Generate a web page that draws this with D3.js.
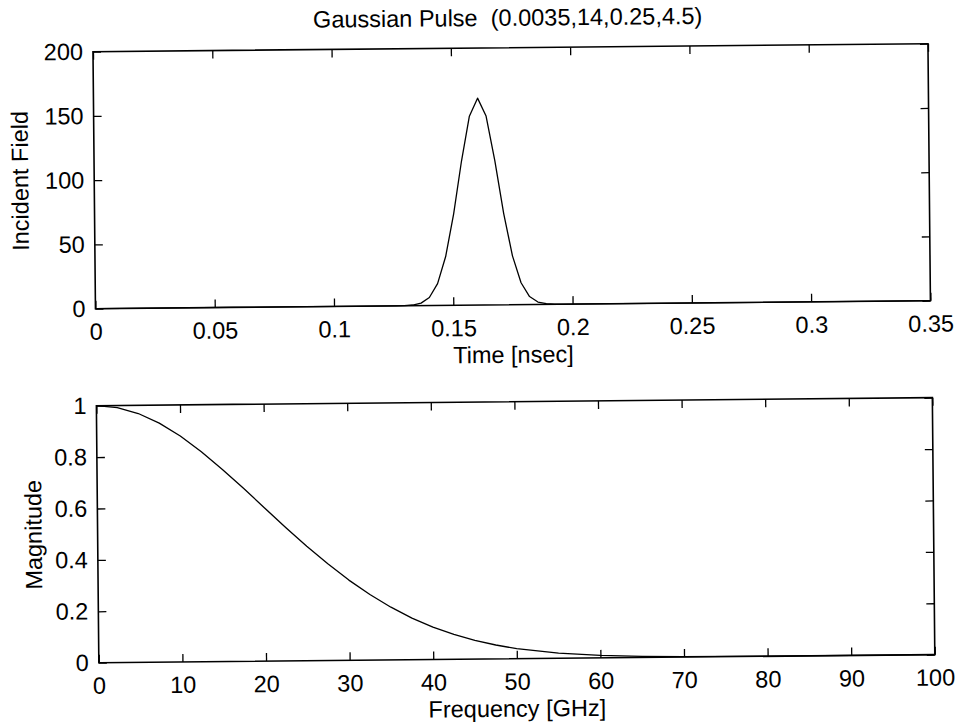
<!DOCTYPE html>
<html><head><meta charset="utf-8">
<script src="https://cdn.jsdelivr.net/npm/d3@7"></script>
<style>
body{margin:0;background:#fff}
svg{display:block;background:#fff}
text{font-family:"Liberation Sans",Arial,Helvetica,sans-serif;font-size:23.5px;fill:#000}
</style>
</head><body>
<svg id="c" width="964" height="728"></svg>
<script>
const titleText = "Gaussian Pulse  (0.0035,14,0.25,4.5)";

// Top panel: incident field vs time
const timeNs = [0, 0.126, 0.1295, 0.133, 0.1365, 0.14, 0.1435, 0.147, 0.1505, 0.154, 0.1575, 0.161,
  0.1645, 0.168, 0.1715, 0.175, 0.1785, 0.182, 0.1855, 0.189, 0.1925, 0.196, 0.35];
const incidentField = [0, 0, 0.1, 0.5, 1.9, 6.2, 17, 38, 71, 112, 147, 161,
  147, 112, 71, 38, 17, 6.2, 1.9, 0.5, 0.1, 0, 0];

// Bottom panel: spectrum magnitude vs frequency
const freqGHz = [0, 2.5, 5, 7.5, 10, 12.5, 15, 17.5, 20, 22.5, 25, 27.5, 30, 32.5, 35, 37.5,
  40, 42.5, 45, 47.5, 50, 55, 60, 65, 70, 80, 90, 100];
const magnitude = [1, 0.992, 0.968, 0.930, 0.879, 0.817, 0.747, 0.673, 0.596, 0.519, 0.445, 0.376,
  0.312, 0.255, 0.205, 0.162, 0.126, 0.097, 0.073, 0.054, 0.039, 0.020, 0.0095, 0.0042, 0.0018,
  0.0003, 0, 0];

const timeTicks = [0, 0.05, 0.1, 0.15, 0.2, 0.25, 0.3, 0.35];
const timeTickLabels = ["0", "0.05", "0.1", "0.15", "0.2", "0.25", "0.3", "0.35"];
const fieldTicks = [0, 50, 100, 150, 200];
const fieldTickLabels = ["0", "50", "100", "150", "200"];
const freqTicks = [0, 10, 20, 30, 40, 50, 60, 70, 80, 90, 100];
const freqTickLabels = ["0", "10", "20", "30", "40", "50", "60", "70", "80", "90", "100"];
const magTicks = [0, 0.2, 0.4, 0.6, 0.8, 1];
const magTickLabels = ["0", "0.2", "0.4", "0.6", "0.8", "1"];

const svg = d3.select("#c");
const root = svg.append("g").attr("transform", "rotate(-0.55 482 364)");

root.append("text")
  .attr("x", 511).attr("y", 26)
  .attr("text-anchor", "middle")
  .style("white-space", "pre")
  .text(titleText);

function panel(cfg) {
  const {left, right, top, bottom} = cfg.box;
  const x = d3.scaleLinear().domain(cfg.xDomain).range([left, right]);
  const y = d3.scaleLinear().domain(cfg.yDomain).range([bottom, top]);
  const g = root.append("g");
  const tick = 8;

  const fmt = (ticks, labels) => d => labels[ticks.indexOf(d)];

  const ax = g.append("g").attr("transform", `translate(0,${bottom})`)
    .call(d3.axisBottom(x).tickValues(cfg.xTicks).tickFormat(fmt(cfg.xTicks, cfg.xLabels))
      .tickSizeInner(-tick).tickSizeOuter(0).tickPadding(14.3));
  const ay = g.append("g").attr("transform", `translate(${left},0)`)
    .call(d3.axisLeft(y).tickValues(cfg.yTicks).tickFormat(fmt(cfg.yTicks, cfg.yLabels))
      .tickSizeInner(-tick).tickSizeOuter(0).tickPadding(10));
  const at = g.append("g").attr("transform", `translate(0,${top})`)
    .call(d3.axisTop(x).tickValues(cfg.xTicks).tickFormat("").tickSizeInner(-tick).tickSizeOuter(0));
  const ar = g.append("g").attr("transform", `translate(${right},0)`)
    .call(d3.axisRight(y).tickValues(cfg.yTicks).tickFormat("").tickSizeInner(-tick).tickSizeOuter(0));

  [ax, ay, at, ar].forEach(a => {
    a.select(".domain").remove();
    a.selectAll(".tick line").attr("stroke", "#000").attr("stroke-width", 1.3);
    a.selectAll("text").attr("font-family", null).attr("font-size", null).style("fill", "#000");
  });

  g.append("path")
    .datum(cfg.xs.map((v, i) => [v, cfg.ys[i]]))
    .attr("fill", "none").attr("stroke", "#000").attr("stroke-width", 1.3)
    .attr("stroke-linejoin", "round")
    .attr("d", d3.line().x(d => x(d[0])).y(d => y(d[1])));

  g.append("rect")
    .attr("x", left).attr("y", top)
    .attr("width", right - left).attr("height", bottom - top)
    .attr("fill", "none").attr("stroke", "#000").attr("stroke-width", 1.6);

  g.append("text")
    .attr("x", (left + right) / 2).attr("y", bottom + 58)
    .attr("text-anchor", "middle")
    .text(cfg.xTitle);

  g.append("text")
    .attr("transform", `translate(${cfg.yTitleX},${(top + bottom) / 2}) rotate(-90)`)
    .attr("text-anchor", "middle")
    .text(cfg.yTitle);
}

panel({
  box: {left: 96, right: 931, top: 48, bottom: 305},
  xDomain: [0, 0.35], yDomain: [0, 200],
  xTicks: timeTicks, xLabels: timeTickLabels,
  yTicks: fieldTicks, yLabels: fieldTickLabels,
  xs: timeNs, ys: incidentField,
  xTitle: "Time [nsec]", yTitle: "Incident Field", yTitleX: 30
});

panel({
  box: {left: 96, right: 932, top: 402, bottom: 659},
  xDomain: [0, 100], yDomain: [0, 1],
  xTicks: freqTicks, xLabels: freqTickLabels,
  yTicks: magTicks, yLabels: magTickLabels,
  xs: freqGHz, ys: magnitude,
  xTitle: "Frequency [GHz]", yTitle: "Magnitude", yTitleX: 40
});
</script>
</body></html>
